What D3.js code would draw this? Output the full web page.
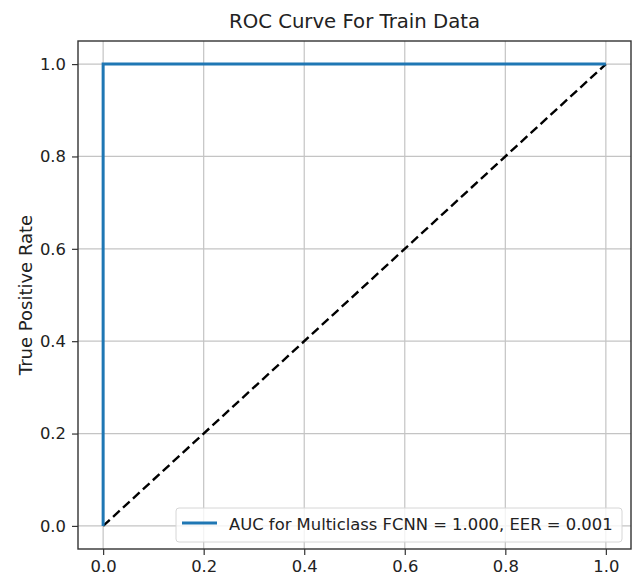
<!DOCTYPE html>
<html>
<head>
<meta charset="utf-8">
<script src="https://cdn.jsdelivr.net/npm/d3@7"></script>
<style>
  body { margin: 0; background: #fff; }
  svg text { font-family: "DejaVu Sans", sans-serif; fill: #222; }
</style>
</head>
<body>
<div class="chart"></div>
<script>
// roc points
var fpr = [0.0, 0.0, 1.0];
var tpr = [0.0, 1.0, 1.0];
var chance = [0.0, 1.0];
var ticks = [0.0, 0.2, 0.4, 0.6, 0.8, 1.0];
var title = "ROC Curve For Train Data";
var yTitle = "True Positive Rate";
var legendLabel = "AUC for Multiclass FCNN = 1.000, EER = 0.001";

var W = 632, H = 581;
var margin = {top: 41, right: 1, bottom: 32, left: 78},
    width = W - margin.left - margin.right,
    height = H - margin.top - margin.bottom;

var x = d3.scaleLinear().domain([-0.05, 1.05]).range([0, width]);
var y = d3.scaleLinear().domain([-0.05, 1.05]).range([height, 0]);

var svg = d3.select(".chart")
    .append("svg")
    .attr("width", W)
    .attr("height", H)
    .append("g")
    .attr("transform", "translate(" + margin.left + "," + margin.top + ")");

// grid
svg.append("g")
    .selectAll("line.gx")
    .data(ticks)
    .enter().append("line")
    .attr("x1", function(d) { return x(d); })
    .attr("x2", function(d) { return x(d); })
    .attr("y1", 0).attr("y2", height)
    .style("stroke", "#c4c4c4").style("stroke-width", 1.2);
svg.append("g")
    .selectAll("line.gy")
    .data(ticks)
    .enter().append("line")
    .attr("y1", function(d) { return y(d); })
    .attr("y2", function(d) { return y(d); })
    .attr("x1", 0).attr("x2", width)
    .style("stroke", "#c4c4c4").style("stroke-width", 1.2);

var line = d3.line()
    .x(function(d) { return x(d[0]); })
    .y(function(d) { return y(d[1]); });

svg.append("path")
    .datum(chance.map(function(d) { return [d, d]; }))
    .attr("d", line)
    .style("fill", "none")
    .style("stroke", "#000")
    .style("stroke-width", 2.4)
    .style("stroke-dasharray", "9,4.5");

svg.append("path")
    .datum(fpr.map(function(d, i) { return [d, tpr[i]]; }))
    .attr("d", line)
    .style("fill", "none")
    .style("stroke", "#1f77b4")
    .style("stroke-width", 3);

// axes
var xAxis = d3.axisBottom(x).tickValues(ticks).tickFormat(d3.format(".1f")).tickSize(6).tickPadding(5);
var yAxis = d3.axisLeft(y).tickValues(ticks).tickFormat(d3.format(".1f")).tickSize(6).tickPadding(6);

var gx = svg.append("g")
    .attr("transform", "translate(0," + height + ")")
    .call(xAxis);
var gy = svg.append("g").call(yAxis);
[gx, gy].forEach(function(g) {
    g.select(".domain").remove();
    g.selectAll("line").style("stroke", "#333").style("stroke-width", 1.2);
    g.selectAll("text").style("font-size", "16.4px").style("font-family", "DejaVu Sans").style("fill", "#222");
});

svg.append("rect")
    .attr("width", width).attr("height", height)
    .style("fill", "none").style("stroke", "#333").style("stroke-width", 1.4);

svg.append("text")
    .attr("x", width / 2)
    .attr("y", -13)
    .style("text-anchor", "middle")
    .style("font-size", "19.7px")
    .text(title);

svg.append("text")
    .attr("transform", "rotate(-90)")
    .attr("x", -height / 2)
    .attr("y", -46)
    .style("text-anchor", "middle")
    .style("font-size", "18px")
    .text(yTitle);

// legend
var lg = svg.append("g").attr("transform", "translate(" + (176 - margin.left) + "," + (508 - margin.top) + ")");
lg.append("rect")
    .attr("width", 446).attr("height", 34).attr("rx", 3)
    .style("fill", "rgba(255,255,255,0.8)")
    .style("stroke", "#d6d6d6");
lg.append("line")
    .attr("x1", 6).attr("x2", 41).attr("y1", 15).attr("y2", 15)
    .style("stroke", "#1f77b4").style("stroke-width", 3);
lg.append("text")
    .attr("x", 53).attr("y", 22)
    .style("font-size", "16.4px")
    .text(legendLabel);
</script>
</body>
</html>
